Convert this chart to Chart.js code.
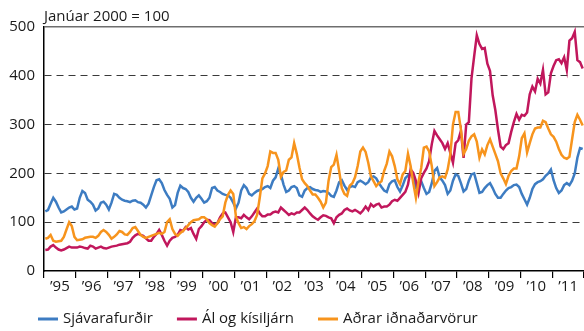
<!DOCTYPE html>
<html lang="is">
<head>
<meta charset="utf-8">
<script src="https://cdn.jsdelivr.net/npm/chart.js@4.4.0/dist/chart.umd.min.js"></script>
<style>
  html, body { margin: 0; padding: 0; background: #fff; }
</style>
</head>
<body>
<canvas id="verdvisitala" width="584" height="331"></canvas>
<script>
// Ár á x-ás og merkin undir þeim
const ar = [1995, 1996, 1997, 1998, 1999, 2000, 2001, 2002, 2003, 2004, 2005, 2006, 2007, 2008, 2009, 2010, 2011];
const arMerki = ar.map(a => '’' + String(a).slice(2));

// Mánaðarleg vísitala (janúar 2000 = 100), jan 1995 - des 2011
const sjavarafurdir = [
  122, 125, 138, 150, 142, 130, 120, 122, 126, 130, 132, 126, // 1995
  128, 150, 164, 160, 146, 142, 136, 124, 128, 140, 142, 136, // 1996
  126, 140, 158, 156, 150, 146, 144, 143, 141, 144, 145, 141, // 1997
  140, 136, 130, 138, 155, 172, 186, 188, 180, 166, 156, 148, // 1998
  130, 135, 160, 175, 170, 168, 162, 150, 142, 150, 155, 148, // 1999
  140, 143, 150, 170, 172, 165, 162, 158, 156, 155, 150, 140, // 2000
  128, 140, 165, 176, 170, 158, 155, 160, 164, 166, 168, 172, // 2001
  174, 170, 185, 192, 210, 198, 177, 162, 165, 172, 174, 170, // 2002
  155, 152, 165, 170, 172, 168, 166, 165, 162, 164, 163, 160, // 2003
  154, 152, 165, 182, 186, 175, 166, 172, 174, 172, 182, 185, // 2004
  182, 178, 182, 192, 194, 190, 180, 172, 165, 162, 178, 184, // 2005
  186, 172, 163, 175, 190, 196, 200, 190, 172, 180, 184, 170, // 2006
  158, 162, 180, 205, 211, 192, 185, 176, 158, 165, 185, 198, // 2007
  195, 180, 163, 168, 185, 198, 200, 180, 160, 162, 170, 176, // 2008
  180, 170, 158, 150, 150, 158, 165, 170, 172, 176, 177, 172, // 2009
  158, 147, 136, 150, 168, 178, 182, 184, 188, 195, 200, 208, // 2010
  186, 170, 160, 165, 176, 180, 176, 185, 200, 232, 252, 250  // 2011
];

const alOgKisiljarn = [
   43,  44,  50,  53,  48,  44,  42,  44,  47,  50,  48,  48, // 1995
   48,  50,  49,  47,  46,  52,  50,  46,  48,  50,  47,  46, // 1996
   48,  50,  51,  52,  54,  55,  56,  57,  60,  68,  73,  76, // 1997
   74,  72,  67,  62,  62,  70,  76,  84,  74,  62,  52,  62, // 1998
   68,  70,  74,  84,  82,  90,  85,  88,  76,  66,  86,  92, // 1999
  100, 105, 104,  98,  94,  98, 110, 118, 120, 110, 100,  80, // 2000
  110, 110, 108, 115, 110, 106, 112, 120, 128, 118, 112, 112, // 2001
  116, 116, 120, 122, 120, 130, 125, 120, 115, 118, 116, 120, // 2002
  120, 125, 130, 125, 118, 112, 108, 105, 110, 114, 113, 110, // 2003
  108,  98, 110, 115, 118, 125, 128, 124, 122, 125, 122, 118, // 2004
  124, 132, 125, 137, 132, 136, 138, 130, 132, 132, 136, 143, // 2005
  146, 144, 150, 156, 162, 177, 208, 201, 185, 160, 190, 201, // 2006
  210, 225, 260, 287, 278, 270, 262, 250, 262, 242, 222, 262, // 2007
  268, 287, 232, 300, 305, 395, 440, 483, 465, 455, 457, 425, // 2008
  410, 360, 330, 290, 255, 250, 258, 262, 285, 305, 322, 310, // 2009
  320, 318, 325, 362, 378, 368, 394, 384, 412, 362, 366, 405, // 2010
  420, 432, 434, 426, 438, 412, 472, 477, 490, 432, 428, 415  // 2011
];

const adrarIdnadarvorur = [
   66,  68,  74,  62,  60,  61,  62,  70,  85, 100,  92,  70, // 1995
   63,  64,  65,  68,  69,  70,  70,  68,  72,  80,  84,  80, // 1996
   74,  66,  70,  75,  82,  80,  75,  74,  80,  88,  90,  82, // 1997
   74,  70,  68,  70,  72,  74,  76,  78,  76,  80, 100, 106, // 1998
   86,  76,  72,  78,  82,  88,  94, 100, 104, 105, 106, 110, // 1999
  110, 106,  98,  94,  91,  98, 106, 112, 140, 156, 165, 158, // 2000
  112,  98,  88,  90,  86,  92,  96, 102, 115, 150, 190, 200, // 2001
  215, 245, 242, 242, 228, 193, 203, 206, 228, 233, 262, 240, // 2002
  212, 188, 180, 174, 165, 157, 157, 150, 142, 130, 140, 185, // 2003
  213, 218, 238, 205, 170, 158, 154, 175, 180, 192, 215, 245, // 2004
  253, 244, 222, 194, 184, 174, 180, 184, 205, 220, 245, 235, // 2005
  215, 188, 178, 198, 205, 240, 215, 180, 150, 184, 211, 253, // 2006
  255, 245, 215, 174, 182, 192, 194, 191, 208, 239, 300, 326, // 2007
  326, 290, 240, 250, 267, 276, 280, 265, 232, 249, 239, 258, // 2008
  270, 255, 240, 225, 200, 190, 178, 195, 205, 210, 210, 235, // 2009
  272, 282, 243, 262, 280, 292, 294, 294, 308, 305, 292, 280, // 2010
  275, 265, 250, 238, 232, 230, 234, 270, 305, 320, 310, 298  // 2011
];

const LETUR = "'Open Sans', sans-serif";
const TEXTI = '#1a1a1a';

// mánuður i er teiknaður í miðju mánaðarbilinu
const punktar = gildi => gildi.map((v, i) => ({ x: i + 0.5, y: v }));

// Skýringar neðst, lína + heiti hverrar raðar
const skyringar = {
  id: 'skyringar',
  afterDraw(chart) {
    const { ctx } = chart;
    const y = 319;
    let x = 38;
    ctx.save();
    ctx.font = `15px ${LETUR}`;
    ctx.textBaseline = 'middle';
    chart.data.datasets.forEach(ds => {
      ctx.strokeStyle = ds.borderColor;
      ctx.lineWidth = 3;
      ctx.beginPath();
      ctx.moveTo(x, y);
      ctx.lineTo(x + 20, y);
      ctx.stroke();
      ctx.fillStyle = TEXTI;
      ctx.fillText(ds.label, x + 25, y);
      x += 25 + ctx.measureText(ds.label).width + 24;
    });
    ctx.restore();
  }
};

Chart.defaults.font.family = LETUR;
Chart.defaults.font.size = 15;
Chart.defaults.color = TEXTI;

new Chart(document.getElementById('verdvisitala'), {
  type: 'line',
  data: {
    datasets: [
      { label: 'Sjávarafurðir', data: punktar(sjavarafurdir), borderColor: '#3d7cc2', order: 2 },
      { label: 'Ál og kísiljárn', data: punktar(alOgKisiljarn), borderColor: '#c1175c', order: 1 },
      { label: 'Aðrar iðnaðarvörur', data: punktar(adrarIdnadarvorur), borderColor: '#f7941d', order: 0 }
    ]
  },
  options: {
    responsive: false,
    animation: false,
    devicePixelRatio: 1,
    layout: { padding: { left: 0, right: 0, top: 0, bottom: 35 } },
    elements: {
      point: { radius: 0 },
      line: { borderWidth: 2.5, tension: 0, fill: false }
    },
    plugins: {
      legend: { display: false },
      tooltip: { enabled: false },
      title: {
        display: true,
        text: 'Janúar 2000 = 100',
        align: 'start',
        fullSize: false,
        color: TEXTI,
        font: { size: 15, weight: 'normal' },
        padding: { top: 8, bottom: 1 }
      }
    },
    scales: {
      x: {
        type: 'linear',
        min: 0,
        max: ar.length * 12,
        afterBuildTicks: s => {
          const t = [];
          for (let v = 0; v <= ar.length * 12; v += 6) t.push({ value: v });
          s.ticks = t;
        },
        ticks: {
          autoSkip: false,
          maxRotation: 0,
          padding: 0,
          callback: v => (v % 12 === 6 ? arMerki[(v - 6) / 12] : '')
        },
        grid: {
          drawOnChartArea: false,
          tickLength: 7,
          lineWidth: 1.2,
          color: c => (c.tick && c.tick.value % 12 === 0 ? '#000' : 'rgba(0,0,0,0)')
        },
        border: { color: '#000', width: 1.5 }
      },
      y: {
        min: 0,
        max: 500,
        afterFit: s => { s.width = 44; },
        ticks: { stepSize: 100, padding: 9 },
        grid: {
          drawTicks: false,
          lineWidth: c => (c.tick && c.tick.value === 500 ? 1.5 : 1),
          color: c => {
            const v = c.tick ? c.tick.value : null;
            if (v === 0) return 'rgba(0,0,0,0)';
            return v === 500 ? '#6e6e6e' : '#3a3a3a';
          }
        },
        border: {
          color: '#000',
          width: 1.5,
          dash: c => (c.tick && c.tick.value !== 500 ? [7, 5] : [])
        }
      }
    }
  },
  plugins: [skyringar]
});
</script>
</body>
</html>
